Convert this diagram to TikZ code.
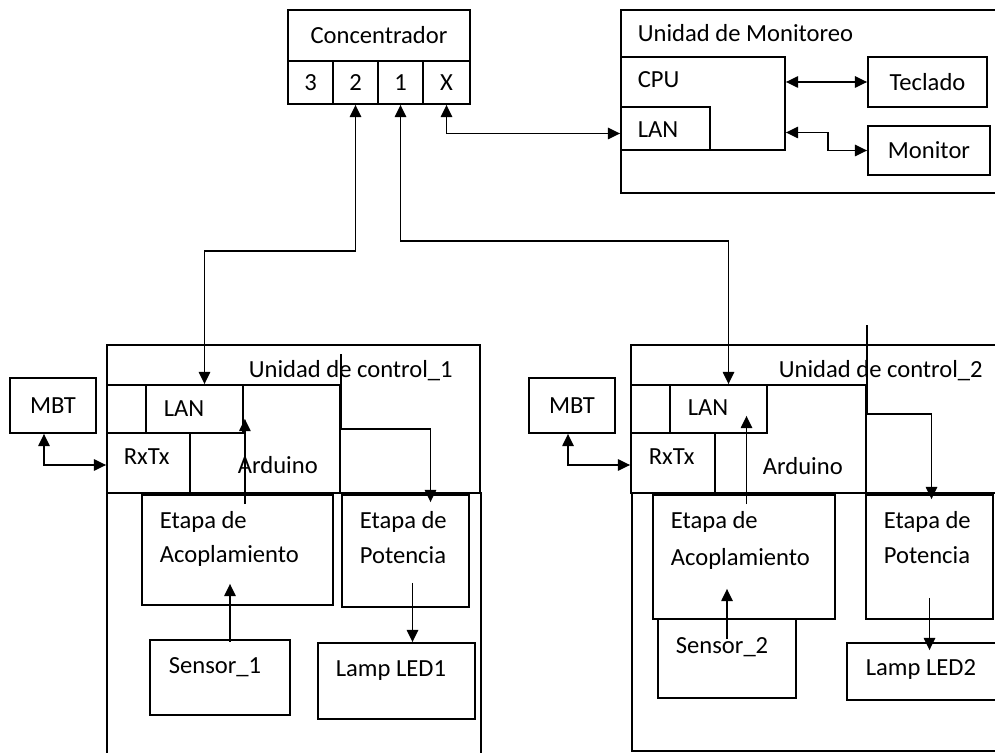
\documentclass[tikz,border=0pt]{standalone}
\usepackage{fontspec}
\setmainfont{Carlito}
\usetikzlibrary{arrows.meta, calc, fit}
\tikzset{
  box/.style={draw, inner sep=0pt, fit={#1}},
  txt/.style={anchor=base west, inner sep=0pt},
  arr/.style={-{Triangle[length=7pt,width=6.5pt]}},
  dbl/.style={{Triangle[length=7pt,width=6.5pt]}-{Triangle[length=7pt,width=6.5pt]}},
}
\begin{document}
\begin{tikzpicture}[x=0.02cm, y=-0.02cm, line width=1pt, font=\fontsize{14}{16}\selectfont]
\path[use as bounding box, clip] (0,0) rectangle (995,753);

% hub
\node[box={(288,10) (470,61)}, label=center:Concentrador] (hub) {};
\node[box={(288,61) (333,104)}, label=center:3] (p3) {};
\node[box={(333,61) (378,104)}, label=center:2] (p2) {};
\node[box={(378,61) (423,104)}, label=center:1] (p1) {};
\node[box={(423,61) (470,104)}, label=center:X] (px) {};

% monitoring unit
\node[box={(621,10) (1010,193)}] (mon) {};
\node[txt] (monT) at (637,42) {Unidad de Monitoreo};
\node[box={(621,57) (785,150)}] (cpu) {};
\node[txt] (cpuT) at (637,88) {CPU};
\node[box={(621,107) (710,150)}] (lanM) {};
\node[txt] (lanMT) at (637,138) {LAN};
\node[box={(868,57) (987,107)}, label=center:Teclado] (kbd) {};
\node[box={(868,126) (990,175)}, label=center:Monitor] (scr) {};

% control unit 1
\node[box={(107,345) (480,493)}] (ucA) {};
\node[txt] (ucAT) at (248,378) {Unidad de control\_1};
\node[box={(107,493) (481,780)}] (baseA) {};
\node[box={(107,385) (340,493)}] (ardA) {};
\node[box={(107,385) (146,433)}] (padA) {};
\node[box={(146,385) (243,433)}] (lanA) {};
\node[box={(107,433) (190,493)}] (rxA) {};
\node[txt] (lanAT) at (163,417) {LAN};
\node[txt] (rxAT) at (123,465) {RxTx};
\node[txt] (ardAT) at (237,474) {Arduino};
\node[box={(10,378) (96,433)}, label=center:MBT] (mbtA) {};
\node[box={(142,495) (333,605)}] (acpA) {};
\node[txt] (acpAT) at (159,528) {Etapa de};
\node[txt] (acpAB) at (159,562) {Acoplamiento};
\node[box={(342,495) (469,607)}] (potA) {};
\node[txt] (potAT) at (359,528) {Etapa de};
\node[txt] (potAB) at (359,563) {Potencia};
\node[box={(150,640) (290,715)}] (senA) {};
\node[txt] (senAT) at (168,673) {Sensor\_1};
\node[box={(318,643) (475,719)}] (ledA) {};
\node[txt] (ledAT) at (335,676) {Lamp LED1};

% control unit 2
\node[box={(631,345) (1010,493)}] (ucB) {};
\node[txt] (ucBT) at (778,378) {Unidad de control\_2};
\node[box={(632,493) (1010,751)}] (baseB) {};
\node[box={(631,385) (866,493)}] (ardB) {};
\node[box={(631,385) (670,433)}] (padB) {};
\node[box={(670,385) (767,433)}] (lanB) {};
\node[box={(631,433) (715,493)}] (rxB) {};
\node[txt] (lanBT) at (687,416) {LAN};
\node[txt] (rxBT) at (648,465) {RxTx};
\node[txt] (ardBT) at (762,475) {Arduino};
\node[box={(529,378) (615,433)}, label=center:MBT] (mbtB) {};
\node[box={(653,495) (835,619)}] (acpB) {};
\node[txt] (acpBT) at (670,528) {Etapa de};
\node[txt] (acpBB) at (670,565) {Acoplamiento};
\node[box={(866,495) (993,619)}] (potB) {};
\node[txt] (potBT) at (883,528) {Etapa de};
\node[txt] (potBB) at (883,563) {Potencia};
\node[box={(658,619) (796,698)}] (senB) {};
\node[txt] (senBT) at (675,653) {Sensor\_2};
\node[box={(847,643) (1010,700)}] (ledB) {};
\node[txt] (ledBT) at (865,675) {Lamp LED2};

% arrows
\draw[dbl] (p2.south) -- ++(0,146) -| ($(lanA.north)+(10,0)$);
\draw[dbl] (p1.south) -- ++(0,136) -| ($(lanB.north)+(10,0)$);
\draw[dbl] (px.south) |- ($(lanM.west)+(0,5)$);
\draw[dbl] (cpu.east |- kbd.west) -- (kbd.west);
\draw[dbl] ($(cpu.east)+(0,29)$) -- ++(42,0) |- (scr.west);

\draw[dbl] ($(mbtA.south)+(-9,0)$) |- ($(rxA.west)+(0,2)$);
\coordinate (ctlA) at ($(ardA.north east)+(0,-30)$);
\draw[arr] (ctlA) -- ($(ardA.north east)+(0,45)$) -| ($(potA.north)+(25,8)$);
\draw[arr] ($(acpA.north -| lanA.east)+(1,10)$) -- ($(lanA.south east)+(1,-15)$);
\draw[arr] ($(senA.north)+(10,3)$) -- ($(acpA.south -| senA.north)+(10,-22)$);
\draw[arr] ($(potA.south)+(7,-25)$) -- ($(ledA.north -| potA.south)+(7,0)$);

\draw[dbl] ($(mbtB.south)+(-4,0)$) |- ($(rxB.west)+(0,2)$);
\coordinate (ctlB) at ($(ardB.north east)+(0,-59)$);
\draw[arr] (ctlB) -- ($(ardB.north east)+(0,30)$) -| ($(potB.north)+(2,5)$);
\draw[arr] ($(acpB.north -| lanB.south)+(28,10)$) -- ($(lanB.south)+(28,-18)$);
\draw[arr] ($(senB.north)+(0,21)$) -- ($(acpB.south -| senB.north)+(0,-31)$);
\draw[arr] ($(potB.south)+(0,-22)$) -- ($(ledB.north -| potB.south)+(0,8)$);
\end{tikzpicture}
\end{document}
